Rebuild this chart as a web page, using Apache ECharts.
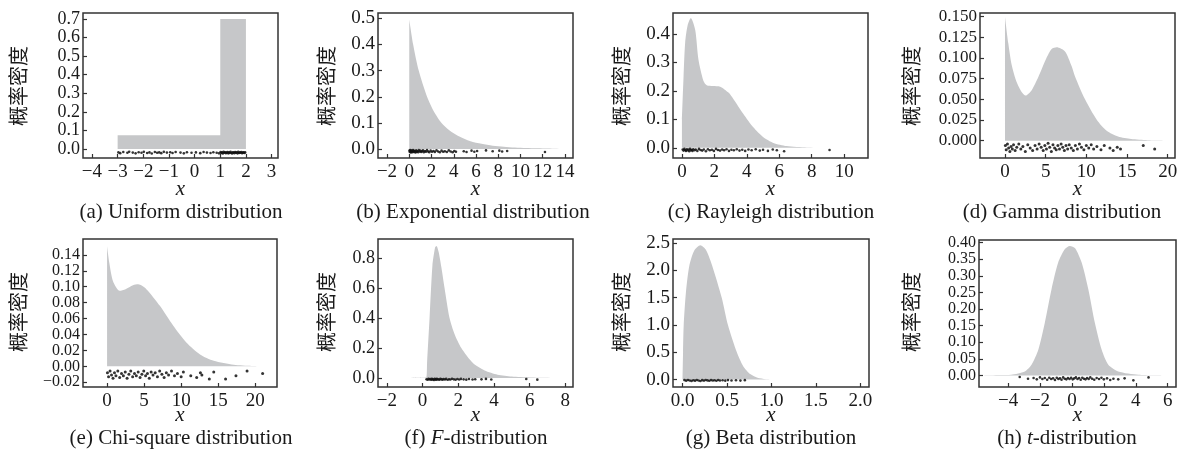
<!DOCTYPE html>
<html><head><meta charset="utf-8">
<script src="https://cdn.jsdelivr.net/npm/echarts@6/dist/echarts.min.js"></script>
<style>html,body{margin:0;padding:0;background:#fff}#c{width:1190px;height:452px}</style>
</head><body><div id="c"></div>
<script>
// ---------- data ----------
const ylabelText = '概率密度';
const xlabelText = 'x';
const captions = ['(a) Uniform distribution','(b) Exponential distribution','(c) Rayleigh distribution','(d) Gamma distribution',
                  '(e) Chi-square distribution','(f) {i|F}-distribution','(g) Beta distribution','(h) {i|t}-distribution'];

const aXTicks = [-4,-3,-2,-1,0,1,2,3];
const aYTicks = [0,0.1,0.2,0.3,0.4,0.5,0.6,0.7];
const aCurveX = [-3, 1, 1, 2];
const aCurveY = [0.075, 0.075, 0.7, 0.7];
const aRug = [[-2.97,-0.018],[-2.9,-0.022],[-2.78,-0.016],[-2.62,-0.02],[-2.55,-0.014],[-2.41,-0.019],[-2.3,-0.023],[-2.18,-0.017],[-2.07,-0.02],[-1.98,-0.015],[-1.85,-0.021],[-1.76,-0.018],[-1.67,-0.024],[-1.55,-0.016],[-1.46,-0.02],[-1.38,-0.018],[-1.3,-0.022],[-1.2,-0.015],[-1.08,-0.019],[-0.95,-0.017],[-0.86,-0.021],[-0.74,-0.016],[-0.55,-0.019],[-0.42,-0.023],[-0.3,-0.017],[-0.12,-0.02],[0.05,-0.018],[0.22,-0.022],[0.35,-0.016],[0.48,-0.019],[0.62,-0.021],[0.73,-0.017],[0.86,-0.02],[0.95,-0.023],
 [1.01,-0.016],[1.04,-0.021],[1.07,-0.018],[1.1,-0.024],[1.13,-0.015],[1.16,-0.02],[1.19,-0.017],[1.22,-0.022],[1.25,-0.019],[1.28,-0.016],[1.31,-0.023],[1.34,-0.018],[1.37,-0.021],[1.4,-0.015],[1.43,-0.02],[1.46,-0.024],[1.49,-0.017],[1.52,-0.019],[1.55,-0.022],[1.58,-0.016],[1.61,-0.02],[1.64,-0.018],[1.67,-0.023],[1.7,-0.015],[1.73,-0.021],[1.76,-0.018],[1.79,-0.02],[1.82,-0.016],[1.85,-0.022],[1.88,-0.019],[1.91,-0.017],[1.94,-0.021],[1.97,-0.018]];

const bXTicks = [-2,0,2,4,6,8,10,12,14];
const bYTicks = [0,0.1,0.2,0.3,0.4,0.5];
const bCurveX = [0, 0.35, 0.85, 1.6, 2.2, 2.9, 3.6, 4.4, 5.5, 6.5, 7.5, 8.5, 9.5, 10.5, 11.5, 12.5, 13.8];
const bCurveY = [0.495, 0.40, 0.30, 0.20, 0.145, 0.10, 0.072, 0.05, 0.03, 0.02, 0.013, 0.009, 0.006, 0.004, 0.003, 0.002, 0];
const bRug = [[0.02,-0.006],[0.05,-0.011],[0.08,-0.004],[0.12,-0.009],[0.15,-0.013],[0.18,-0.005],[0.22,-0.01],[0.26,-0.007],[0.3,-0.012],[0.34,-0.004],[0.38,-0.009],[0.42,-0.006],[0.47,-0.011],[0.52,-0.008],[0.57,-0.013],[0.62,-0.005],[0.68,-0.01],[0.74,-0.007],[0.8,-0.012],[0.86,-0.004],[0.93,-0.009],[1.0,-0.006],[1.07,-0.011],[1.15,-0.008],[1.23,-0.005],[1.31,-0.012],[1.4,-0.007],[1.5,-0.01],[1.6,-0.004],[1.7,-0.009],[1.8,-0.012],[1.92,-0.006],[2.05,-0.01],[2.18,-0.007],[2.3,-0.011],[2.45,-0.005],[2.6,-0.009],[2.75,-0.012],[2.9,-0.006],[3.05,-0.01],[3.2,-0.008],[3.38,-0.011],[3.55,-0.005],[3.72,-0.009],[3.9,-0.012],[4.05,-0.007],[4.2,-0.01],[4.9,-0.008],[5.15,-0.011],[5.6,-0.006],[5.85,-0.01],[6.1,-0.007],[6.9,-0.005],[7.5,-0.008],[8.1,-0.006],[8.35,-0.009],[8.8,-0.007],[12.2,-0.011]];

const cXTicks = [0,2,4,6,8,10];
const cYTicks = [0,0.1,0.2,0.3,0.4];
const cCurveX = [0, 0.1, 0.2, 0.35, 0.55, 0.82, 1.02, 1.33, 1.53, 1.9, 2.36, 2.87, 3.18, 3.79, 4.4, 5.02, 5.64, 6.45, 7.7, 9.9];
const cCurveY = [0.1, 0.25, 0.37, 0.43, 0.456, 0.414, 0.31, 0.235, 0.22, 0.217, 0.215, 0.194, 0.171, 0.119, 0.072, 0.037, 0.017, 0.006, 0.001, 0];
const cRug = [[0.05,-0.006],[0.1,-0.01],[0.15,-0.004],[0.2,-0.008],[0.25,-0.011],[0.3,-0.005],[0.35,-0.009],[0.4,-0.006],[0.45,-0.012],[0.5,-0.004],[0.55,-0.009],[0.6,-0.007],[0.65,-0.011],[0.7,-0.005],[0.78,-0.009],[0.85,-0.006],[0.95,-0.011],[1.05,-0.004],[1.15,-0.008],[1.25,-0.01],[1.35,-0.006],[1.48,-0.012],[1.6,-0.005],[1.72,-0.009],[1.85,-0.007],[1.97,-0.011],[2.1,-0.004],[2.22,-0.008],[2.35,-0.01],[2.48,-0.006],[2.6,-0.009],[2.75,-0.005],[2.9,-0.011],[3.05,-0.007],[3.2,-0.009],[3.38,-0.005],[3.55,-0.01],[3.72,-0.007],[3.9,-0.011],[4.1,-0.006],[4.3,-0.009],[4.55,-0.005],[4.8,-0.01],[5.0,-0.007],[5.3,-0.011],[5.6,-0.006],[5.85,-0.009],[6.3,-0.012],[9.1,-0.008]];

const dXTicks = [0,5,10,15,20];
const dYTicks = [0,0.025,0.05,0.075,0.1,0.125,0.15];
const dCurveX = [0, 0.41, 0.82, 1.43, 2.05, 2.54, 3.28, 4.1, 5.1, 5.74, 6.35, 7.38, 8.2, 8.6, 9.84, 11.3, 12.5, 13.9, 15.5, 17.5, 20.1];
const dCurveY = [0.15, 0.118, 0.092, 0.071, 0.059, 0.0545, 0.061, 0.077, 0.1, 0.111, 0.113, 0.108, 0.09, 0.078, 0.05, 0.025, 0.012, 0.005, 0.002, 0.0006, 0];
const dRug = [[0.05,-0.006],[0.15,-0.011],[0.3,-0.004],[0.45,-0.009],[0.6,-0.013],[0.75,-0.007],[0.9,-0.01],[1.05,-0.005],[1.25,-0.012],[1.45,-0.008],[1.7,-0.004],[1.95,-0.01],[2.2,-0.007],[2.5,-0.013],[2.8,-0.005],[3.1,-0.009],[3.4,-0.012],[3.7,-0.006],[3.95,-0.01],[4.2,-0.004],[4.45,-0.008],[4.7,-0.012],[4.9,-0.006],[5.1,-0.01],[5.3,-0.003],[5.5,-0.008],[5.7,-0.013],[5.9,-0.005],[6.1,-0.009],[6.3,-0.011],[6.5,-0.006],[6.7,-0.01],[6.9,-0.004],[7.1,-0.008],[7.3,-0.012],[7.5,-0.006],[7.7,-0.01],[7.9,-0.005],[8.15,-0.009],[8.4,-0.012],[8.65,-0.006],[8.9,-0.01],[9.15,-0.004],[9.4,-0.008],[9.7,-0.011],[10.0,-0.006],[10.3,-0.009],[10.6,-0.005],[10.9,-0.01],[11.3,-0.007],[11.8,-0.011],[12.2,-0.006],[12.9,-0.009],[13.3,-0.012],[13.8,-0.008],[14.2,-0.01],[17.0,-0.006],[18.4,-0.01]];

const eXTicks = [0,5,10,15,20];
const eYTicks = [-0.02,0,0.02,0.04,0.06,0.08,0.1,0.12,0.14];
const eCurveX = [0, 0.3, 0.8, 1.7, 2.5, 3.5, 4.2, 5.3, 7.13, 8.94, 10.7, 12.55, 14.4, 17.1, 19.5, 22.3];
const eCurveY = [0.151, 0.13, 0.107, 0.095, 0.097, 0.102, 0.103, 0.097, 0.076, 0.051, 0.03, 0.015, 0.007, 0.002, 0.0005, 0];
const eRug = [[0.05,-0.008],[0.2,-0.013],[0.4,-0.006],[0.6,-0.011],[0.8,-0.015],[1.0,-0.008],[1.2,-0.012],[1.45,-0.006],[1.7,-0.014],[1.95,-0.009],[2.2,-0.012],[2.45,-0.007],[2.7,-0.015],[2.95,-0.01],[3.2,-0.006],[3.45,-0.013],[3.7,-0.009],[3.95,-0.012],[4.2,-0.007],[4.45,-0.014],[4.7,-0.01],[4.95,-0.006],[5.2,-0.012],[5.45,-0.009],[5.7,-0.015],[5.95,-0.007],[6.2,-0.011],[6.5,-0.008],[6.8,-0.013],[7.1,-0.006],[7.4,-0.01],[7.7,-0.014],[8.0,-0.008],[8.3,-0.011],[8.7,-0.006],[9.1,-0.012],[9.5,-0.009],[10.0,-0.013],[10.3,-0.007],[11.3,-0.012],[12.1,-0.014],[12.6,-0.008],[12.8,-0.011],[13.8,-0.016],[14.4,-0.007],[16.0,-0.016],[17.4,-0.012],[18.9,-0.006],[21.0,-0.009]];

const fXTicks = [-2,0,2,4,6,8];
const fYTicks = [0,0.2,0.4,0.6,0.8];
const fCurveX = [-1.5, 0.2, 0.25, 0.39, 0.55, 0.7, 0.78, 0.9, 1.05, 1.23, 1.51, 1.8, 2.17, 2.82, 3.48, 4.2, 5.0, 6.0, 8.0];
const fCurveY = [0, 0.003, 0.1, 0.4, 0.75, 0.87, 0.88, 0.84, 0.74, 0.6, 0.4, 0.29, 0.2, 0.1, 0.05, 0.022, 0.01, 0.004, 0];
const fRug = [[0.22,-0.008],[0.28,-0.012],[0.33,-0.005],[0.38,-0.01],[0.43,-0.007],[0.48,-0.012],[0.52,-0.006],[0.56,-0.01],[0.6,-0.008],[0.64,-0.013],[0.68,-0.005],[0.72,-0.009],[0.76,-0.011],[0.8,-0.006],[0.85,-0.01],[0.9,-0.008],[0.95,-0.012],[1.0,-0.005],[1.06,-0.009],[1.12,-0.011],[1.18,-0.007],[1.25,-0.01],[1.32,-0.006],[1.4,-0.012],[1.48,-0.008],[1.56,-0.01],[1.65,-0.005],[1.75,-0.009],[1.85,-0.011],[1.95,-0.007],[2.05,-0.01],[2.15,-0.006],[2.3,-0.009],[2.45,-0.011],[2.6,-0.007],[2.8,-0.01],[2.95,-0.008],[3.3,-0.009],[3.55,-0.006],[3.85,-0.01],[5.81,-0.007],[6.43,-0.011]];

const gXTicks = [0,0.5,1,1.5,2];
const gYTicks = [0,0.5,1,1.5,2,2.5];
const gCurveX = [0, 0.005, 0.012, 0.037, 0.075, 0.13, 0.2, 0.26, 0.33, 0.44, 0.51, 0.61, 0.68, 0.76, 0.85, 1.0];
const gCurveY = [0, 0.5, 0.98, 1.59, 2.08, 2.36, 2.46, 2.38, 2.1, 1.5, 1.0, 0.5, 0.25, 0.1, 0.03, 0];
const gRug = [[0.02,-0.01],[0.04,-0.02],[0.06,-0.008],[0.08,-0.016],[0.1,-0.024],[0.12,-0.012],[0.14,-0.02],[0.16,-0.009],[0.18,-0.017],[0.2,-0.025],[0.22,-0.011],[0.24,-0.019],[0.26,-0.008],[0.28,-0.015],[0.3,-0.022],[0.32,-0.01],[0.34,-0.018],[0.36,-0.013],[0.38,-0.021],[0.4,-0.009],[0.42,-0.016],[0.45,-0.012],[0.48,-0.02],[0.51,-0.01],[0.55,-0.017],[0.6,-0.012],[0.65,-0.019],[0.7,-0.011]];

const hXTicks = [-4,-2,0,2,4,6];
const hYTicks = [0,0.05,0.1,0.15,0.2,0.25,0.3,0.35,0.4];
const hCurveX = [-5.5, -4.5, -3.8, -2.95, -2.53, -2.1, -1.7, -1.28, -0.86, -0.45, -0.13, 0.2, 0.61, 1.03, 1.44, 1.86, 2.28, 2.9, 4.16, 5.84];
const hCurveY = [0, 0.001, 0.002, 0.012, 0.032, 0.078, 0.158, 0.259, 0.34, 0.38, 0.39, 0.383, 0.34, 0.259, 0.158, 0.078, 0.032, 0.012, 0.002, 0];
const hRug = [[-3.27,-0.005],[-2.75,-0.01],[-2.4,-0.008],[-2.2,-0.012],[-2.0,-0.006],[-1.85,-0.011],[-1.7,-0.008],[-1.55,-0.013],[-1.42,-0.007],[-1.3,-0.011],[-1.18,-0.009],[-1.06,-0.014],[-0.95,-0.007],[-0.85,-0.011],[-0.75,-0.009],[-0.65,-0.013],[-0.55,-0.006],[-0.45,-0.01],[-0.35,-0.012],[-0.25,-0.008],[-0.15,-0.011],[-0.05,-0.007],[0.05,-0.012],[0.15,-0.009],[0.25,-0.006],[0.35,-0.011],[0.45,-0.008],[0.55,-0.013],[0.65,-0.007],[0.75,-0.01],[0.85,-0.012],[0.95,-0.008],[1.05,-0.011],[1.15,-0.006],[1.27,-0.01],[1.4,-0.013],[1.55,-0.008],[1.7,-0.011],[1.85,-0.007],[2.0,-0.012],[2.2,-0.009],[2.4,-0.014],[2.6,-0.01],[2.9,-0.012],[3.3,-0.009],[3.85,-0.015],[4.8,-0.006]];

// ---------- layout / style ----------
const panels = [
 {cx:aCurveX, cy:aCurveY, rug:aRug, xt:aXTicks, yt:aYTicks, left:83, top:13, width:195, height:145, xr:[-4.35,3.25], yr:[-0.048,0.732], xd:0, yd:1, yf:18, ylx:18, capx:181, smooth:false},
 {cx:bCurveX, cy:bCurveY, rug:bRug, xt:bXTicks, yt:bYTicks, left:378, top:13, width:195, height:145, xr:[-2.81,14.72], yr:[-0.034,0.52], xd:0, yd:1, yf:19, ylx:326, capx:473, smooth:0.25},
 {cx:cCurveX, cy:cCurveY, rug:cRug, xt:cXTicks, yt:cYTicks, left:673, top:13, width:195, height:145, xr:[-0.55,11.47], yr:[-0.036,0.474], xd:0, yd:1, yf:19, ylx:621, capx:771, smooth:0.25},
 {cx:dCurveX, cy:dCurveY, rug:dRug, xt:dXTicks, yt:dYTicks, left:980, top:13, width:195, height:145, xr:[-3.07,20.9], yr:[-0.021,0.1545], xd:0, yd:3, yf:17, ylx:911, capx:1062, smooth:0.25},
 {cx:eCurveX, cy:eCurveY, rug:eRug, xt:eXTicks, yt:eYTicks, left:83, top:239, width:194, height:148, xr:[-3.25,22.94], yr:[-0.026,0.16], xd:0, yd:2, yf:16, ylx:18, capx:181, smooth:0.25},
 {cx:fCurveX, cy:fCurveY, rug:fRug, xt:fXTicks, yt:fYTicks, left:378, top:239, width:195, height:148, xr:[-2.5,8.43], yr:[-0.06,0.927], xd:0, yd:1, yf:18, ylx:326, capx:476, smooth:0.25},
 {cx:gCurveX, cy:gCurveY, rug:gRug, xt:gXTicks, yt:gYTicks, left:673, top:239, width:196, height:148, xr:[-0.108,2.096], yr:[-0.136,2.574], xd:1, yd:1, yf:19, ylx:621, capx:771, smooth:0.25},
 {cx:hCurveX, cy:hCurveY, rug:hRug, xt:hXTicks, yt:hYTicks, left:979, top:240, width:197, height:147, xr:[-5.82,6.52], yr:[-0.035,0.408], xd:0, yd:2, yf:16, ylx:911, capx:1067, smooth:0.25}
];
const rowY = [{yl:86, xl:189, cap:212}, {yl:312, xl:415, cap:438}];
const SERIF = '"Liberation Serif","Times New Roman",serif';
const INK = '#1a1a1a';
const FRAME = '#333';
const FILL = '#c6c7c9';

function fmt(dec){
  return function(v){
    return (Math.abs(v) < 1e-12 ? 0 : v).toFixed(dec).replace('-', '\u2212');
  };
}

const grid = [], xAxis = [], yAxis = [], series = [], graphic = [];
panels.forEach((p, i) => {
  const row = rowY[i < 4 ? 0 : 1];
  grid.push({left:p.left, top:p.top, width:p.width, height:p.height, show:true, borderColor:FRAME, borderWidth:1.5, backgroundColor:'transparent'});
  xAxis.push({type:'value', gridIndex:i, min:p.xr[0], max:p.xr[1],
    axisLine:{show:false, onZero:false}, splitLine:{show:false},
    axisTick:{show:true, inside:true, length:4, customValues:p.xt, lineStyle:{color:FRAME, width:1.2}},
    axisLabel:{customValues:p.xt, showMinLabel:true, showMaxLabel:true, hideOverlap:false,
      formatter:fmt(p.xd), fontFamily:SERIF, fontSize:19, color:INK, margin:5}});
  yAxis.push({type:'value', gridIndex:i, min:p.yr[0], max:p.yr[1],
    axisLine:{show:false, onZero:false}, splitLine:{show:false},
    axisTick:{show:true, inside:true, length:4, customValues:p.yt, lineStyle:{color:FRAME, width:1.2}},
    axisLabel:{customValues:p.yt, showMinLabel:true, showMaxLabel:true, hideOverlap:false,
      formatter:fmt(p.yd), fontFamily:SERIF, fontSize:p.yf, color:INK, margin:3}});
  series.push({type:'line', xAxisIndex:i, yAxisIndex:i, data:p.cx.map((x, k) => [x, p.cy[k]]),
    showSymbol:false, symbol:'none', smooth:p.smooth,
    lineStyle:{width:0, color:FILL}, areaStyle:{color:FILL, opacity:1}, silent:true, z:2});
  series.push({type:'scatter', xAxisIndex:i, yAxisIndex:i, data:p.rug,
    symbol:'circle', symbolSize:(i === 3 || i === 4) ? 3 : 2.6, itemStyle:{color:'#111', opacity:0.85}, silent:true, z:3});
  const cxm = p.left + p.width / 2;
  graphic.push({type:'text', x:p.ylx, y:row.yl, rotation:Math.PI/2,
    style:{text:ylabelText, fontFamily:'"Noto Sans CJK SC"', fontSize:20, fill:INK, align:'center', verticalAlign:'middle'}});
  graphic.push({type:'text', x:cxm, y:row.xl,
    style:{text:xlabelText, fontFamily:SERIF, fontStyle:'italic', fontSize:21, fill:INK, align:'center', verticalAlign:'middle'}});
  graphic.push({type:'text', x:p.capx, y:row.cap,
    style:{text:captions[i], fontFamily:SERIF, fontSize:21, fill:INK, align:'center', verticalAlign:'middle',
      rich:{i:{fontFamily:SERIF, fontStyle:'italic', fontSize:21, fill:INK}}}});
});

const chart = echarts.init(document.getElementById('c'), null, {renderer:'canvas'});
chart.setOption({animation:false, backgroundColor:'#fff', grid, xAxis, yAxis, series, graphic});
</script></body></html>
